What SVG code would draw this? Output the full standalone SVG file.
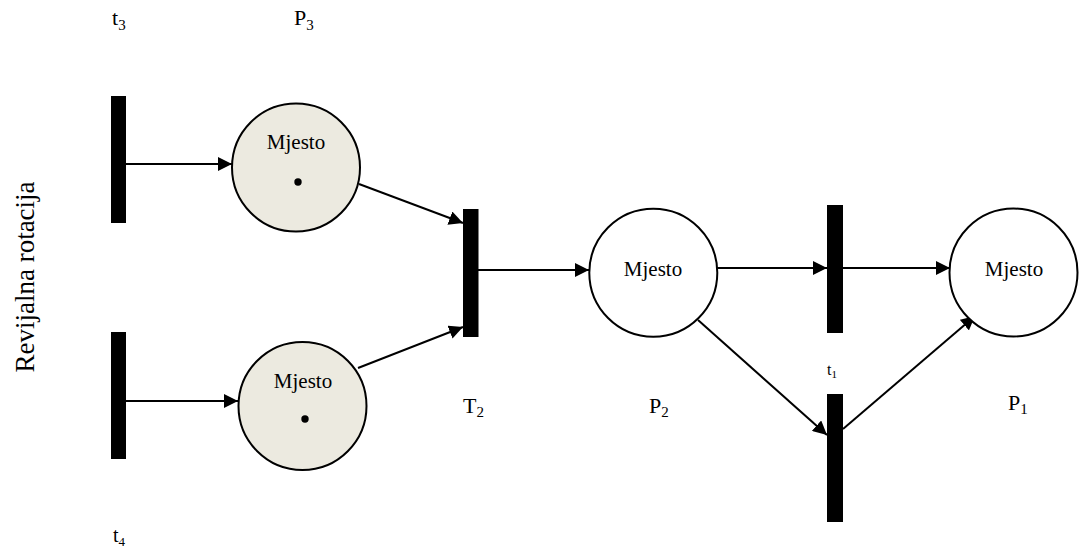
<svg xmlns="http://www.w3.org/2000/svg" width="1079" height="549" viewBox="0 0 1079 549">
<defs>
<marker id="ah" markerUnits="userSpaceOnUse" markerWidth="14" markerHeight="14" refX="14" refY="7" orient="auto">
<path d="M0,0 L14,7 L0,14 z" fill="#000"/>
</marker>
</defs>
<style>
text{font-family:"Liberation Serif","Times New Roman",serif;fill:#000}
.bar{fill:#000}
.place{stroke:#000;stroke-width:2}
.filled{fill:#ECEAE0}
.empty{fill:#fff}
.lbl{font-size:22px}
.sub{font-size:15px}
.m{font-size:21px;text-anchor:middle}
.arc{stroke:#000;stroke-width:2;fill:none;marker-end:url(#ah)}
</style>
<rect width="1079" height="549" fill="#fff"/>
<text transform="translate(34,277) rotate(-90)" style="font-size:27px;text-anchor:middle">Revijalna rotacija</text>
<g id="connectors">
<line class="arc" x1="126" y1="164" x2="232" y2="164"/>
<line class="arc" x1="126" y1="401" x2="238" y2="401"/>
<line class="arc" x1="359" y1="184" x2="463" y2="223"/>
<line class="arc" x1="358" y1="368" x2="463" y2="327"/>
<line class="arc" x1="478" y1="270" x2="589" y2="270"/>
<line class="arc" x1="717" y1="268" x2="827" y2="268"/>
<line class="arc" x1="843" y1="268" x2="950" y2="268"/>
<line class="arc" x1="698" y1="320" x2="827" y2="435"/>
<line class="arc" x1="843" y1="429" x2="975" y2="316"/>
</g>
<g id="t3">
<rect class="bar" x="111" y="96" width="15" height="127"/>
<text class="lbl" x="112" y="25">t<tspan class="sub" dy="4.5">3</tspan></text>
</g>
<g id="t4">
<rect class="bar" x="111" y="332" width="15" height="127"/>
<text x="113" y="542" style="font-size:20px">t<tspan dy="3.5" style="font-size:13px">4</tspan></text>
</g>
<g id="P3">
<circle class="place filled" cx="296" cy="167.5" r="64"/>
<text class="m" x="296" y="149">Mjesto</text>
<circle cx="298" cy="182" r="3.7" fill="#000"/>
<text class="lbl" x="294" y="25">P<tspan class="sub" dy="4.5">3</tspan></text>
</g>
<g id="P4">
<circle class="place filled" cx="302.5" cy="406" r="64"/>
<text class="m" x="303" y="388">Mjesto</text>
<circle cx="305" cy="419" r="3.7" fill="#000"/>
</g>
<g id="T2">
<rect class="bar" x="463" y="209" width="15.5" height="128"/>
<text class="lbl" x="463" y="413">T<tspan class="sub" dy="4">2</tspan></text>
</g>
<g id="P2">
<circle class="place empty" cx="653.3" cy="272.8" r="64"/>
<text class="m" x="653" y="276">Mjesto</text>
<text class="lbl" x="649" y="413">P<tspan class="sub" dy="4">2</tspan></text>
</g>
<g id="t1">
<rect class="bar" x="827" y="205" width="16" height="128"/>
<text x="827" y="375" style="font-size:16px">t<tspan dy="3" style="font-size:11px">1</tspan></text>
</g>
<g id="t1b">
<rect class="bar" x="827" y="394" width="16" height="128"/>
</g>
<g id="P1">
<circle class="place empty" cx="1013.5" cy="272.5" r="64"/>
<text class="m" x="1014" y="276">Mjesto</text>
<text class="lbl" x="1008" y="410">P<tspan class="sub" dy="4">1</tspan></text>
</g>
</svg>
